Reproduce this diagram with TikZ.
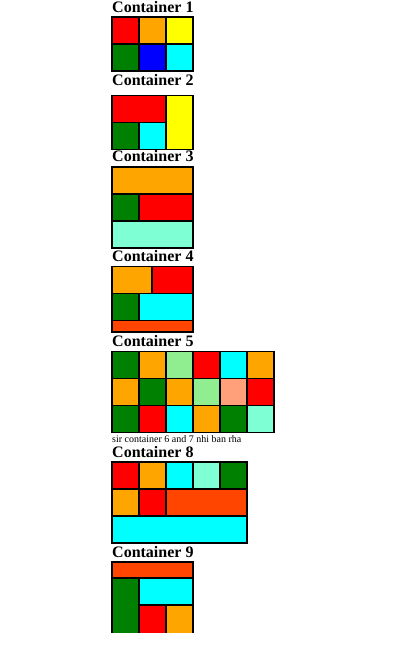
\documentclass[tikz,border=0pt]{standalone}
\usepackage{fontspec}
\setmainfont{Liberation Serif}
\usepackage{tikz}
\definecolor{cred}{HTML}{FF0000}
\definecolor{corange}{HTML}{FFA500}
\definecolor{cyellow}{HTML}{FFFF00}
\definecolor{cgreen}{HTML}{008000}
\definecolor{cblue}{HTML}{0000FF}
\definecolor{ccyan}{HTML}{00FFFF}
\definecolor{caqua}{HTML}{7FFFD4}
\definecolor{corangered}{HTML}{FF4500}
\definecolor{clightgreen}{HTML}{90EE90}
\definecolor{csalmon}{HTML}{FFA07A}
\tikzset{
    cellbox/.style={draw=black,line width=1.3pt},
    heading/.style={anchor=base west,inner sep=0pt,font=\bfseries\fontsize{16}{18}\selectfont},
    remark/.style={anchor=base west,inner sep=0pt,font=\fontsize{10}{12}\selectfont},
}

\begin{document}
\begin{tikzpicture}[x=1pt,y=-1pt]
    \useasboundingbox (0,0) rectangle (419,659);
    % Container 1
    \node[heading] (title1) at (112,12.7) {Container 1};
    \foreach \c [count=\i from 0] in {cred,corange,cyellow}
        \draw[cellbox,fill=\c] (112+27*\i,17) rectangle ++(27,27);
    \foreach \c [count=\i from 0] in {cgreen,cblue,ccyan}
        \draw[cellbox,fill=\c] (112+27*\i,44) rectangle ++(27,27);
    % Container 2
    \node[heading] (title2) at (112,85) {Container 2};
    \draw[cellbox,fill=cred] (112,95.5) rectangle (166,122.5);
    \draw[cellbox,fill=cyellow] (166,95.5) rectangle (193,149.5);
    \draw[cellbox,fill=cgreen] (112,122.5) rectangle (139,149.5);
    \draw[cellbox,fill=ccyan] (139,122.5) rectangle (166,149.5);
    % Container 3
    \node[heading] (title3) at (112,161.7) {Container 3};
    \draw[cellbox,fill=corange] (112,167) rectangle (193,194);
    \draw[cellbox,fill=cgreen] (112,194) rectangle (139,221);
    \draw[cellbox,fill=cred] (139,194) rectangle (193,221);
    \draw[cellbox,fill=caqua] (112,221) rectangle (193,248);
    % Container 4
    \node[heading] (title4) at (112,261.7) {Container 4};
    \draw[cellbox,fill=corange] (112,266.5) rectangle (152,293.5);
    \draw[cellbox,fill=cred] (152,266.5) rectangle (193,293.5);
    \draw[cellbox,fill=cgreen] (112,293.5) rectangle (139,320.5);
    \draw[cellbox,fill=ccyan] (139,293.5) rectangle (193,320.5);
    \draw[cellbox,fill=corangered] (112,320.5) rectangle (193,332);
    % Container 5
    \node[heading] (title5) at (112,346.7) {Container 5};
    \foreach \c [count=\i from 0] in {cgreen,corange,clightgreen,cred,ccyan,corange}
        \draw[cellbox,fill=\c] (112+27*\i,351.5) rectangle ++(27,27);
    \foreach \c [count=\i from 0] in {corange,cgreen,corange,clightgreen,csalmon,cred}
        \draw[cellbox,fill=\c] (112+27*\i,378.5) rectangle ++(27,27);
    \foreach \c [count=\i from 0] in {cgreen,cred,ccyan,corange,cgreen,caqua}
        \draw[cellbox,fill=\c] (112+27*\i,405.5) rectangle ++(27,27);
    \node[remark] (note) at (112,442) {sir container 6 and 7 nhi ban rha};
    % Container 8
    \node[heading] (title8) at (112,457.3) {Container 8};
    \foreach \c [count=\i from 0] in {cred,corange,ccyan,caqua,cgreen}
        \draw[cellbox,fill=\c] (112+27*\i,462) rectangle ++(27,27);
    \draw[cellbox,fill=corange] (112,489) rectangle (139,516);
    \draw[cellbox,fill=cred] (139,489) rectangle (166,516);
    \draw[cellbox,fill=corangered] (166,489) rectangle (247,516);
    \draw[cellbox,fill=ccyan] (112,516) rectangle (247,543);
    % Container 9 (cut off at the bottom)
    \node[heading] (title9) at (112,557.7) {Container 9};
    \begin{scope}
        \clip (0,0) rectangle (419,632);
        \draw[cellbox,fill=corangered] (112,562) rectangle (193,578);
        \draw[cellbox,fill=cgreen] (112,578) rectangle (139,645);
        \draw[cellbox,fill=ccyan] (139,578) rectangle (193,605);
        \draw[cellbox,fill=cred] (139,605) rectangle (166,645);
        \draw[cellbox,fill=corange] (166,605) rectangle (193,645);
    \end{scope}
\end{tikzpicture}
\end{document}
